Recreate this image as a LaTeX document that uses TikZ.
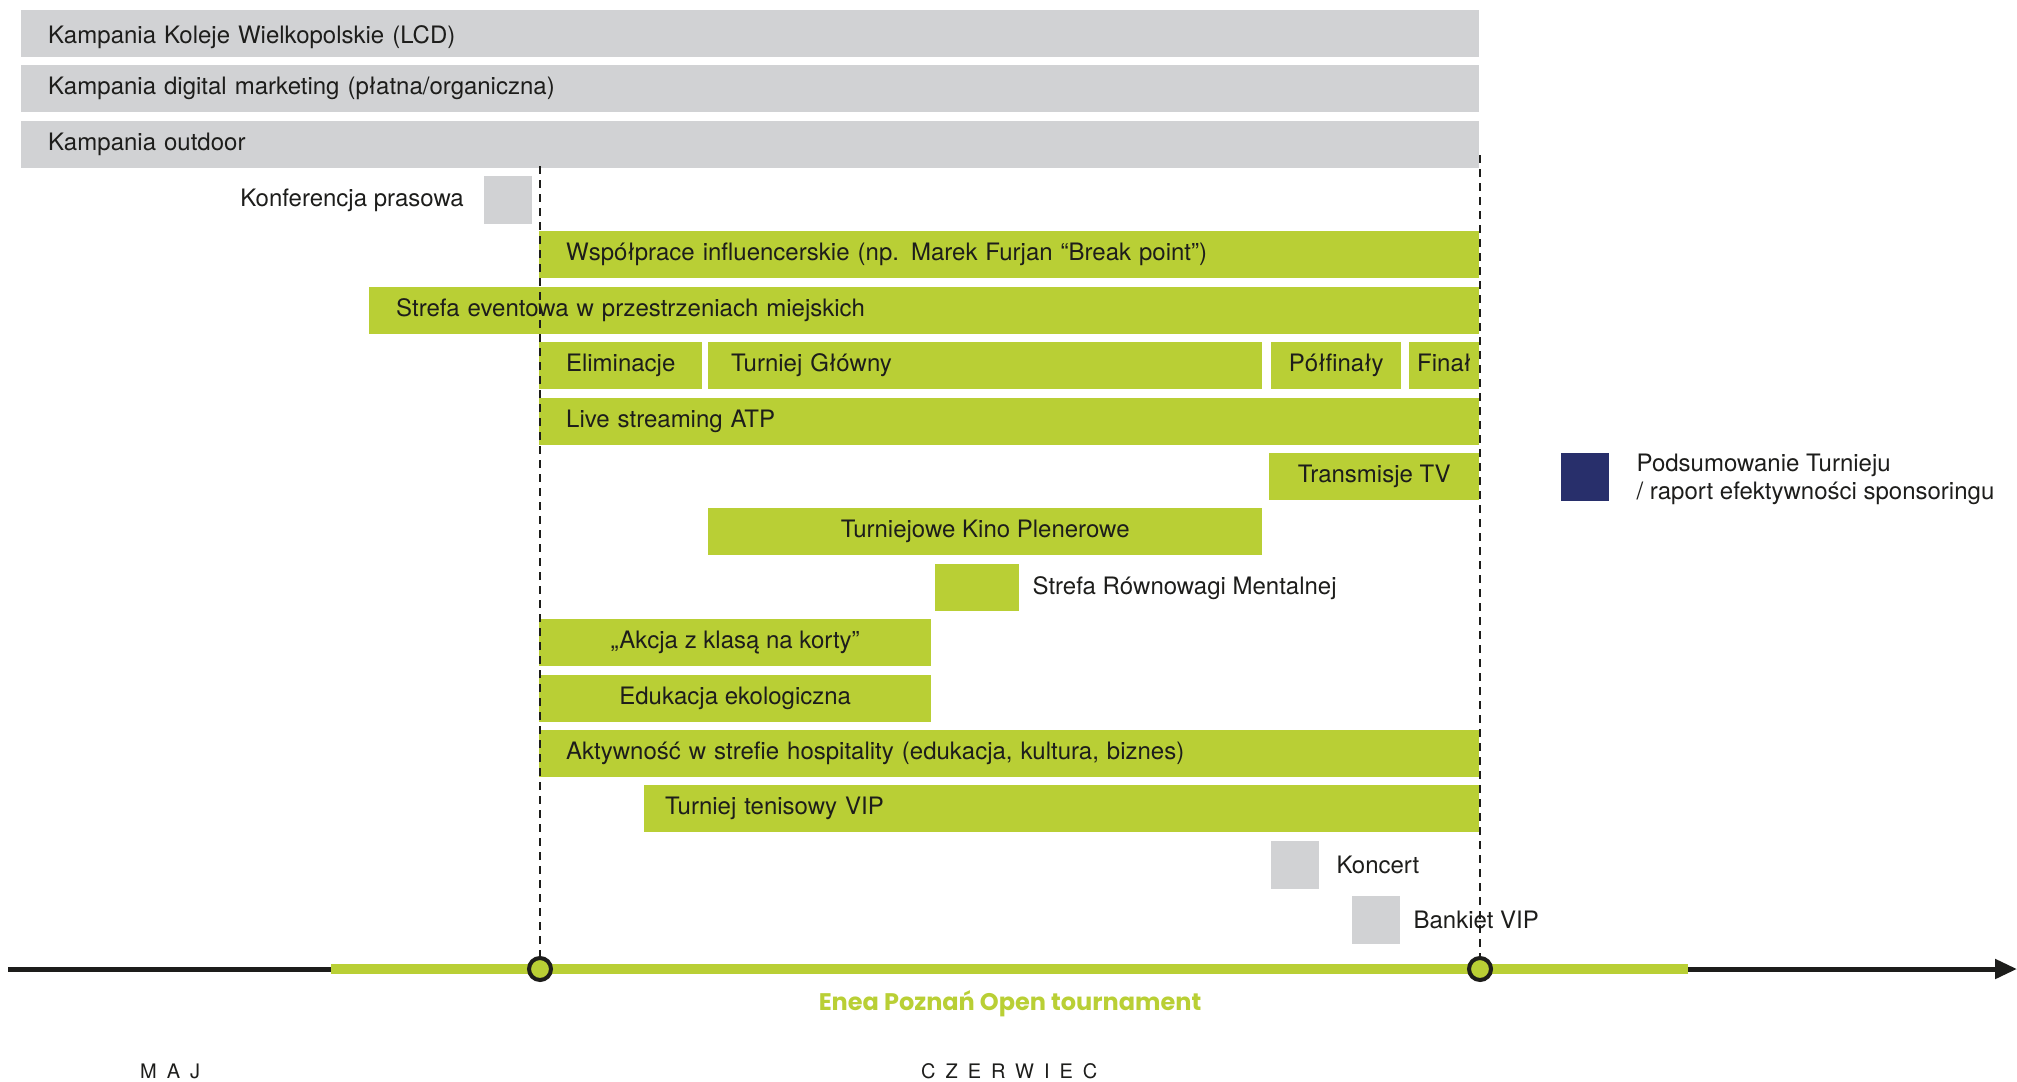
\documentclass[tikz,border=0pt]{standalone}
\usepackage{fontspec}
\setmainfont{TeX Gyre Heros}
\newfontfamily\titlefont{Poppins}
\usetikzlibrary{positioning,arrows.meta}

\definecolor{limegreen}{HTML}{B9CF35}
\definecolor{lightgrey}{HTML}{D1D2D4}
\definecolor{navyblue}{HTML}{282F6B}
\definecolor{axisblack}{HTML}{1D1D1B}

\tikzset{
  bar/.style={minimum height=47pt, inner ysep=0pt, inner xsep=0pt, anchor=north west,
    text height=17pt, text depth=5pt, text=axisblack},
  greenbar/.style={bar, fill=limegreen},
  greybar/.style={bar, fill=lightgrey},
  leftbar/.style={text width=#1, align=left, inner xsep=27pt},
  square/.style={bar, minimum width=48pt, minimum height=48pt},
  caption/.style={inner sep=0pt, text=axisblack},
  month/.style={caption, anchor=base west, font=\fontsize{20}{24}\selectfont\addfontfeature{LetterSpace=50}},
  milestone/.style={circle, draw=axisblack, line width=4pt, fill=limegreen,
    minimum size=22pt, inner sep=0pt}
}

\begin{document}
\begin{tikzpicture}[x=1pt, y=-1pt, every node/.style={font=\fontsize{24}{28}\selectfont}]
  \useasboundingbox (0,0) rectangle (2017,1081);

  % campaigns
  \node[greybar, leftbar=1404pt, text height=21pt, text depth=1pt] (lcd) at (21,10) {Kampania Koleje Wielkopolskie (LCD)};
  \node[greybar, leftbar=1404pt] (digital) at (21,65) {Kampania digital marketing (płatna/organiczna)};
  \node[greybar, leftbar=1404pt] (outdoor) at (21,121) {Kampania outdoor};
  \node[greybar, square] (konf) at (484,176) {};
  \node[caption, left=20pt of konf] (konftxt) {Konferencja prasowa};

  % activities
  \node[greenbar, leftbar=886pt] (influ) at (539,231) {Współprace influencerskie (np. Marek Furjan “Break point”)};
  \node[greenbar, leftbar=1056pt] (strefa) at (369,287) {Strefa eventowa w przestrzeniach miejskich};
  \node[greenbar, minimum width=163pt] (elim) at (539,342) {Eliminacje};
  \node[greenbar, leftbar=508pt, inner xsep=23pt] (glowny) at (708,342) {Turniej Główny};
  \node[greenbar, minimum width=130pt] (polfinal) at (1271,342) {Półfinały};
  \node[greenbar, minimum width=70pt] (final) at (1409,342) {Finał};
  \node[greenbar, leftbar=886pt] (live) at (539,398) {Live streaming ATP};
  \node[greenbar, minimum width=210pt] (tv) at (1269,453) {Transmisje TV};
  \node[greenbar, minimum width=554pt] (kino) at (708,508) {Turniejowe Kino Plenerowe};
  \node[greenbar, minimum width=84pt] (mental) at (935,564) {};
  \node[caption, right=13pt of mental] (mentaltxt) {Strefa Równowagi Mentalnej};
  \node[greenbar, minimum width=392pt] (akcja) at (539,619) {„Akcja z klasą na korty”};
  \node[greenbar, minimum width=392pt] (eko) at (539,675) {Edukacja ekologiczna};
  \node[greenbar, leftbar=886pt] (hosp) at (539,730) {Aktywność w strefie hospitality (edukacja, kultura, biznes)};
  \node[greenbar, leftbar=793pt, inner xsep=21pt] (vip) at (644,785) {Turniej tenisowy VIP};
  \node[greybar, square] (koncert) at (1271,841) {};
  \node[caption, right=17pt of koncert] (koncerttxt) {Koncert};
  \node[greybar, square] (bankiet) at (1352,896) {};
  \node[caption, right=13pt of bankiet] (bankiettxt) {Bankiet VIP};

  % summary
  \node[square, fill=navyblue] (summary) at (1561,453) {};
  \node[caption, right=27pt of summary, align=left, yshift=-2pt] (summarytxt)
    {Podsumowanie Turnieju\\/ raport efektywności sponsoringu};

  % timeline
  \coordinate (axstart) at (8,969);
  \coordinate (axend) at (2017,969);
  \coordinate (bandstart) at (331,969);
  \coordinate (bandend) at (1688,969);
  \draw[axisblack, line width=5pt, -{Triangle[length=22pt, width=19pt]}] (axstart) -- (axend);
  \draw[limegreen, line width=10pt] (bandstart) -- (bandend);
  \coordinate (opentop) at (540,166);
  \coordinate (closetop) at (1480,155);
  \node[milestone] (open) at (540,969) {};
  \node[milestone] (close) at (1480,969) {};
  \draw[axisblack, line width=2pt, dash pattern=on 8pt off 6pt] (opentop) -- (open);
  \draw[axisblack, line width=2pt, dash pattern=on 8pt off 6pt] (closetop) -- (close);
  \node[caption, anchor=base, text=limegreen, font=\fontsize{24}{28}\titlefont\bfseries] (tournament)
    at (1010,1010) {Enea Poznań Open tournament};

  % months
  \node[month] (may) at (140,1078) {MAJ};
  \node[month] (june) at (921,1078) {CZERWIEC};
\end{tikzpicture}
\end{document}
